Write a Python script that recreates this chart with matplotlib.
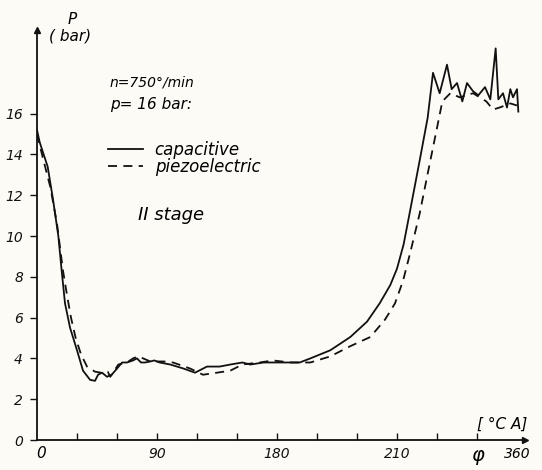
import numpy as np
import matplotlib
matplotlib.use('Agg')
import matplotlib.pyplot as plt

# crank angle [deg CA] and pressure [bar]
cap_angle = [0, 2, 4.5, 8, 12, 16, 18.5, 21, 24.8, 30, 34.5, 39.8, 43.5, 45.8, 48.8,
             52.5, 56, 60, 63.8, 67.5, 72, 75, 78, 81, 85, 88, 92, 100, 110, 118.5,
             127.5, 137, 145, 154, 160, 170, 184.5, 197, 205, 220, 235, 247.5, 257,
             265, 270, 275, 280, 287, 293, 297, 302, 307.5, 311, 315, 319, 322.5,
             327, 331, 336, 340, 344, 346, 349.5, 352.5, 355, 357, 360, 361]
cap_p = [15.2, 14.6, 14.1, 13.4, 11.8, 10.0, 8.3, 6.7, 5.5, 4.4, 3.4, 2.95, 2.9, 3.2, 3.3,
         3.1, 3.2, 3.5, 3.8, 3.8, 3.9, 4.0, 3.8, 3.8, 3.85, 3.9, 3.8, 3.7, 3.5, 3.3,
         3.6, 3.6, 3.7, 3.8, 3.7, 3.8, 3.8, 3.8, 4.0, 4.4, 5.05, 5.8, 6.7,
         7.6, 8.4, 9.6, 11.3, 13.7, 15.8, 18.0, 17.0, 18.4, 17.2, 17.5, 16.6, 17.5,
         17.1, 16.9, 17.3, 16.7, 19.2, 16.7, 17.0, 16.3, 17.2, 16.8, 17.2, 16.1]

piezo_angle = [0, 4.5, 10, 15, 19.5, 22.5, 25.5, 29, 33, 37.5, 43.5, 48, 53, 55, 57,
               61, 67.5, 72, 76, 85, 95, 102, 115, 124.5, 135, 145, 154, 167, 177,
               190, 205, 220, 235, 250, 261, 268.5, 274.5, 280, 287, 295, 300, 304,
               310, 317, 327, 332, 337, 342, 347, 355, 360]
piezo_p = [15.0, 13.8, 12.4, 10.6, 8.3, 7.1, 6.0, 5.0, 4.2, 3.6, 3.35, 3.3, 3.35, 3.1, 3.3,
           3.7, 3.8, 4.0, 4.1, 3.85, 3.85, 3.8, 3.5, 3.2, 3.3, 3.4, 3.7, 3.8, 3.9,
           3.8, 3.8, 4.1, 4.6, 5.05, 5.9, 6.7, 7.8, 9.2, 11.1, 13.7, 15.3, 16.6,
           17.0, 16.8, 17.0, 16.8, 16.6, 16.2, 16.3, 16.5, 16.4]

y_ticks = [0, 2, 4, 6, 8, 10, 12, 14, 16]
x_ticks = [30 * i for i in range(13)]
x_labels = {0: '0', 90: '90', 180: '180', 270: '210', 360: '360'}

plt.rcParams['font.family'] = ['DejaVu Sans']
plt.rcParams['font.style'] = 'italic'

bg = '#fcfbf6'
fig = plt.figure(figsize=(5.42, 4.70), dpi=100, facecolor=bg)
ax = fig.add_axes([37 / 542, 30 / 470, 488 / 542, 410 / 470])
ax.set_facecolor(bg)

ax.plot(cap_angle, cap_p, color='#111111', lw=1.3, label='capacitive')
ax.plot(piezo_angle, piezo_p, color='#111111', lw=1.3, dashes=(5, 3.5),
        label='piezoelectric')

ax.set_xlim(0, 366)
ax.set_ylim(0, 20.1)

for s in ['top', 'right']:
    ax.spines[s].set_visible(False)
for s in ['left', 'bottom']:
    ax.spines[s].set_linewidth(1.3)
    ax.spines[s].set_color('#111111')

# axis arrows
ax.plot(1, 0, '>', color='#111111', ms=5, transform=ax.get_yaxis_transform(), clip_on=False)
ax.plot(0, 1, '^', color='#111111', ms=5, transform=ax.get_xaxis_transform(), clip_on=False)

ax.set_yticks(y_ticks)
ax.set_yticklabels([str(v) for v in y_ticks], fontsize=10)
ax.tick_params(axis='y', direction='out', length=5, width=1, pad=5, colors='#111111')

ax.set_xticks(x_ticks[1:-1])
ax.set_xticklabels([x_labels.get(v, '') for v in x_ticks[1:-1]], fontsize=10)
ax.tick_params(axis='x', direction='in', length=5, width=1, pad=5, colors='#111111')
# end labels 0 and 360 (no tick mark drawn there)
ax.annotate('0', (0, 0), xytext=(3, -4), textcoords='offset points',
            ha='center', va='top', fontsize=11, annotation_clip=False)
ax.annotate('360', (360, 0), xytext=(0, -5), textcoords='offset points',
            ha='center', va='top', fontsize=10, annotation_clip=False)
ax.annotate('φ', (330, 0), xytext=(0, -4), textcoords='offset points',
            ha='center', va='top', fontsize=14, annotation_clip=False)
ax.annotate('[ °C A]', (366, 0), xytext=(2, 6), textcoords='offset points',
            ha='right', va='bottom', fontsize=11, annotation_clip=False)

fig.text(72 / 542, 1 - 20 / 470, 'P', fontsize=11, ha='center', va='center')
fig.text(70 / 542, 1 - 36 / 470, '( bar)', fontsize=11, ha='center', va='center')

fig.text(110 / 542, 1 - 82 / 470, 'n=750°/min', fontsize=10, ha='left', va='center')
fig.text(110 / 542, 1 - 104 / 470, 'p= 16 bar:', fontsize=11, ha='left', va='center')
fig.text(138 / 542, 1 - 215 / 470, 'II stage', fontsize=13, ha='left', va='center')

ax.legend(loc='upper left', bbox_to_anchor=(108 / 542, 1 - 141 / 470),
          bbox_transform=fig.transFigure, frameon=False, fontsize=12,
          handlelength=2.1, handletextpad=0.7, labelspacing=-0.05,
          borderaxespad=0, borderpad=0)

fig.savefig('out.png', dpi=100, facecolor=bg)
